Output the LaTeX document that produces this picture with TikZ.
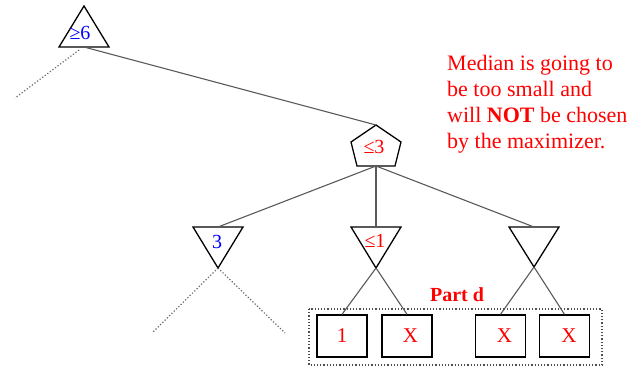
\documentclass[tikz,border=0pt]{standalone}
\usepackage{fontspec}
\setmainfont{Liberation Serif}
\begin{document}
\begin{tikzpicture}[x=1pt,y=-1pt,
  shapeline/.style={draw=black,line width=1.3pt,line join=miter},
  edge/.style={draw=black!65,line width=1.1pt},
  dotedge/.style={draw=black!60,line width=1.2pt,dotted},
  leafbox/.style={draw=black,line width=1.3pt,minimum width=50pt,minimum height=42pt,inner sep=0pt,text=red,font=\fontsize{21}{24}\selectfont},
  lbl/.style={inner sep=0pt,font=\fontsize{20}{24}\selectfont},
]
\useasboundingbox (0,0) rectangle (637,368);
% top max triangle
\coordinate (t0a) at (84,6);
\coordinate (t0l) at (59,47);
\coordinate (t0r) at (109,47);
\coordinate (t0b) at (84,47);
\coordinate (t0d) at (79,50);
\coordinate (t0end) at (15,98);
\draw[shapeline] (t0l) -- (t0a) -- (t0r) -- cycle;
\node[lbl,text=blue] (l0) at (80,33) {≥6};
% pentagon
\coordinate (pt) at (376,125);
\coordinate (pl) at (351,142);
\coordinate (pbl) at (357,166);
\coordinate (pbr) at (395,166);
\coordinate (pr) at (401,142);
\coordinate (pb) at (376,166);
\draw[shapeline] (pt) -- (pl) -- (pbl) -- (pbr) -- (pr) -- cycle;
\node[lbl,text=red] (lp) at (374,147) {≤3};
% min triangles
\coordinate (al) at (193,227); \coordinate (ar) at (243,227); \coordinate (aa) at (218,268); \coordinate (at) at (218,227);
\coordinate (bl) at (351,227); \coordinate (br) at (401,227); \coordinate (ba) at (376,268); \coordinate (bt) at (376,227);
\coordinate (cl) at (509,227); \coordinate (cr) at (559,227); \coordinate (ca) at (534,267); \coordinate (ct) at (534,227);
\draw[shapeline] (al) -- (ar) -- (aa) -- cycle;
\draw[shapeline] (bl) -- (br) -- (ba) -- cycle;
\draw[shapeline] (cl) -- (cr) -- (ca) -- cycle;
\node[lbl,text=blue] (la) at (217,242) {3};
\node[lbl,text=red] (lb) at (375,241) {≤1};
% leaves
\node[leafbox] (b1) at (342,336) {1};
\node[leafbox] (b2) at (407,336) {\hspace*{7pt}X};
\node[leafbox] (b3) at (500.5,336) {\hspace*{8pt}X};
\node[leafbox] (b4) at (564.5,336) {\hspace*{9pt}X};
% dotted part box
\coordinate (dl) at (309,309);
\coordinate (dr) at (602,365);
\draw[draw=black!70,line width=1.2pt,dotted] (dl) rectangle (dr);
\node[inner sep=0pt,text=red,font=\bfseries\fontsize{20}{24}\selectfont] (pd) at (457,295) {Part d};
% connectors
\draw[edge] (t0b) -- (pt);
\draw[edge] (pb) -- (at);
\draw[edge] (pb) -- (bt);
\draw[edge] (pb) -- (ct);
\draw[edge] (ba) -- (b1.north);
\draw[edge] (ba) -- (b2.north);
\draw[edge] (ca) -- (b3.north);
\draw[edge] (ca) -- (b4.north);
\coordinate (ad1) at (152,333);
\coordinate (ad2) at (285,333);
\draw[dotedge] (t0d) -- (t0end);
\draw[dotedge] (aa) -- (ad1);
\draw[dotedge] (aa) -- (ad2);
% comment
\node[anchor=north west,inner sep=0pt,align=left,text=red,font=\fontsize{22}{26}\selectfont] (note) at (447,55)
  {Median is going to\\be too small and\\will \textbf{NOT} be chosen\\by the maximizer.};
\end{tikzpicture}
\end{document}
